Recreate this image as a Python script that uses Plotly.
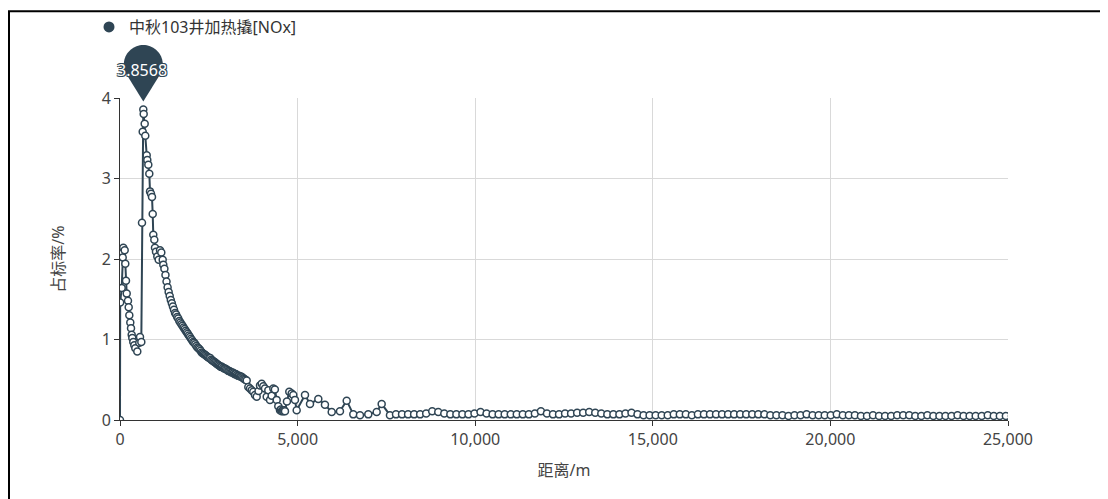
import math
import plotly.graph_objects as go

# ---------------- data ----------------
series_name = "中秋103井加热撬[NOx]"
x_title = "距离/m"
y_title = "占标率/%"

dist_head = [0, 5, 48, 76, 93, 132, 149, 169, 189, 225, 245, 262, 290, 310, 329, 346,
             374, 403, 431, 487, 543, 563, 600, 619, 639, 656, 667, 695, 712, 752,
             769, 797, 825, 845, 873, 901, 921, 937, 966, 985, 1013, 1050, 1089, 1126,
             1163, 1202, 1219]
val_head = [0.0, 1.46, 1.64, 2.02, 2.14, 2.11, 1.94, 1.73, 1.57, 1.48, 1.40, 1.30, 1.21,
            1.14, 1.06, 1.02, 0.97, 0.93, 0.89, 0.85, 0.96, 1.03, 0.97, 2.45, 3.58,
            3.8568, 3.80, 3.68, 3.53, 3.29, 3.23, 3.17, 3.06, 2.84, 2.81, 2.77, 2.56,
            2.30, 2.24, 2.14, 2.09, 2.03, 1.99, 2.11, 2.08, 1.99, 1.93]

dist_decay = [1250, 1280, 1310, 1340, 1370, 1400, 1430, 1460, 1490, 1520, 1550, 1580,
              1610, 1640, 1670, 1700, 1730, 1760, 1790, 1820, 1850, 1880, 1910, 1940,
              1970, 2000, 2030, 2060, 2090, 2120, 2150, 2180, 2210, 2240, 2270, 2300,
              2330, 2360, 2390, 2420, 2450, 2480, 2510, 2540, 2570, 2600, 2630, 2660,
              2690, 2720, 2750, 2780, 2810, 2840, 2870, 2900, 2930, 2960, 2990, 3020,
              3050, 3080, 3110, 3140, 3170, 3200, 3230, 3260, 3290, 3320, 3350, 3380,
              3410, 3440, 3470, 3500, 3530]
val_decay = [1.88, 1.80, 1.72, 1.65, 1.59, 1.54, 1.49, 1.45, 1.41, 1.37, 1.33, 1.31,
             1.28, 1.26, 1.23, 1.21, 1.19, 1.17, 1.15, 1.13, 1.11, 1.09, 1.07, 1.05,
             1.03, 1.01, 0.99, 0.97, 0.96, 0.94, 0.92, 0.90, 0.89, 0.88, 0.86, 0.84,
             0.83, 0.82, 0.81, 0.80, 0.79, 0.78, 0.77, 0.77, 0.75, 0.74, 0.73, 0.72,
             0.71, 0.70, 0.69, 0.68, 0.67, 0.66, 0.66, 0.65, 0.64, 0.64, 0.63, 0.62,
             0.61, 0.61, 0.60, 0.59, 0.59, 0.58, 0.57, 0.57, 0.56, 0.55, 0.55, 0.54,
             0.54, 0.53, 0.52, 0.51, 0.50]

dist_jag = [3567, 3612, 3660, 3707, 3752, 3800, 3848, 3900, 3941, 3989, 4035, 4082,
            4130, 4175, 4223, 4270, 4316, 4360, 4411, 4456, 4504, 4530, 4552, 4580,
            4600, 4625, 4645, 4700, 4766, 4833, 4879, 4926, 4974, 5208, 5349, 5583,
            5770, 5960, 6193, 6382, 6568, 6756, 6990, 7226, 7367, 7600]
val_jag = [0.49, 0.41, 0.39, 0.37, 0.35, 0.31, 0.29, 0.36, 0.43, 0.45, 0.42, 0.39,
           0.29, 0.37, 0.25, 0.30, 0.39, 0.38, 0.25, 0.17, 0.12, 0.13, 0.11, 0.12,
           0.11, 0.12, 0.11, 0.23, 0.35, 0.33, 0.31, 0.25, 0.12, 0.31, 0.20, 0.26,
           0.19, 0.10, 0.11, 0.24, 0.07, 0.06, 0.07, 0.10, 0.20, 0.06]

dist_tail = [7770, 7940, 8110, 8280, 8450, 8620, 8790, 8960, 9130, 9300, 9470, 9640,
             9810, 9980, 10150, 10320, 10490, 10660, 10830, 11000, 11170, 11340, 11510,
             11680, 11850, 12020, 12190, 12360, 12530, 12700, 12870, 13040, 13210,
             13380, 13550, 13720, 13890, 14060, 14230, 14400, 14570, 14740, 14910,
             15080, 15250, 15420, 15590, 15760, 15930, 16100, 16270, 16440, 16610,
             16780, 16950, 17120, 17290, 17460, 17630, 17800, 17970, 18140, 18310,
             18480, 18650, 18820, 18990, 19160, 19330, 19500, 19670, 19840, 20010,
             20180, 20350, 20520, 20690, 20860, 21030, 21200, 21370, 21540, 21710,
             21880, 22050, 22220, 22390, 22560, 22730, 22900, 23070, 23240, 23410,
             23580, 23750, 23920, 24090, 24260, 24430, 24600, 24770, 24940, 25110]
val_tail = [0.07, 0.07, 0.07, 0.07, 0.07, 0.08, 0.11, 0.10, 0.08, 0.07, 0.07, 0.07,
            0.07, 0.08, 0.10, 0.08, 0.07, 0.07, 0.07, 0.07, 0.07, 0.07, 0.07,
            0.08, 0.11, 0.08, 0.07, 0.07, 0.08, 0.08, 0.09, 0.09, 0.10,
            0.09, 0.08, 0.07, 0.07, 0.07, 0.08, 0.09, 0.07, 0.06, 0.06,
            0.06, 0.06, 0.06, 0.07, 0.07, 0.07, 0.06, 0.07, 0.07, 0.07,
            0.07, 0.07, 0.07, 0.07, 0.07, 0.07, 0.07, 0.07, 0.07, 0.06,
            0.06, 0.06, 0.05, 0.06, 0.06, 0.07, 0.06, 0.06, 0.06, 0.06,
            0.07, 0.06, 0.06, 0.06, 0.05, 0.05, 0.06, 0.05, 0.05, 0.05,
            0.06, 0.06, 0.06, 0.05, 0.05, 0.06, 0.05, 0.05, 0.05, 0.05,
            0.06, 0.05, 0.05, 0.05, 0.05, 0.06, 0.05, 0.05, 0.05, 0.05]

x_range = [0, 25000]
y_range = [0, 4]
x_ticks = [0, 5000, 10000, 15000, 20000, 25000]
x_tick_labels = ["0", "5,000", "10,000", "15,000", "20,000", "25,000"]
y_ticks = [0, 1, 2, 3, 4]

distance = dist_head + dist_decay + dist_jag + dist_tail
value = val_head + val_decay + val_jag + val_tail

# ---------------- style ----------------
C = "#2f4554"
# page body has an 8px margin, so the figure is 8px smaller than the window
W, H = 1100, 491
ML, MR, MT, MB = 112, 100, 90, 79
FONT = "Noto Sans, Noto Sans CJK SC, sans-serif"
TXT = "#444"

fig = go.Figure()
fig.add_trace(go.Scatter(
    x=distance, y=value, mode="lines+markers", name=series_name,
    showlegend=False,
    line=dict(color=C, width=2),
    marker=dict(symbol="circle", size=7, color="white", line=dict(color=C, width=1.5)),
))
# legend entry (filled circle icon)
fig.add_trace(go.Scatter(
    x=[None], y=[None], mode="markers", name=series_name,
    marker=dict(symbol="circle", size=11, color=C),
))

# peak pin (paper-anchored so it is not clipped to the plot area)
i_peak = max(range(len(value)), key=lambda i: value[i])
px_, py_ = distance[i_peak], value[i_peak]
ax_ = (px_ - x_range[0]) / (x_range[1] - x_range[0])
ay_ = (py_ - y_range[0]) / (y_range[1] - y_range[0])
r, d, tipoff = 19.5, 37.0, 8.0
ang = math.degrees(math.acos(r / d))
a0 = -90 + ang
a1 = 270 - ang
pts = [(0, tipoff)]
n = 48
for k in range(n + 1):
    a = math.radians(a0 + (a1 - a0) * k / n)
    pts.append((r * math.cos(a), tipoff + d + r * math.sin(a)))
path = "M " + " L ".join(f"{x:.2f},{y:.2f}" for x, y in pts) + " Z"
fig.add_shape(type="path", xref="paper", yref="paper", xsizemode="pixel", ysizemode="pixel",
              xanchor=ax_, yanchor=ay_, path=path, fillcolor=C, line=dict(width=0),
              layer="above")
fig.add_annotation(x=ax_, y=ay_, xref="paper", yref="paper", text=f"{py_:.4f}",
                   showarrow=False, xanchor="center", yanchor="middle",
                   yshift=39.5, xshift=-1,
                   font=dict(family=FONT, size=16, color="white",
                             shadow="1px 1px 0 #2f4554, -1px -1px 0 #2f4554, 1px -1px 0 #2f4554, -1px 1px 0 #2f4554"))

# outer frame
pw, ph = W - ML - MR, H - MT - MB
def fx(p): return (p - ML) / pw
def fy(p): return (H - MB - p) / ph
fig.add_shape(type="rect", xref="paper", yref="paper",
              x0=fx(1), x1=fx(1110), y0=fy(3.2), y1=fy(510),
              line=dict(color="black", width=2), fillcolor="rgba(0,0,0,0)")

axis_common = dict(showline=True, linecolor="#333", linewidth=1, ticks="outside",
                   ticklen=5, tickcolor="#333", showgrid=True, gridcolor="#d9d9d9",
                   gridwidth=1, zeroline=False,
                   tickfont=dict(family=FONT, size=16, color=TXT))

fig.update_layout(
    width=W, height=H,
    margin=dict(l=ML, r=MR, t=MT, b=MB, autoexpand=False),
    paper_bgcolor="white", plot_bgcolor="white",
    font=dict(family=FONT, color=TXT),
    xaxis=dict(range=x_range, tickvals=x_ticks, ticktext=x_tick_labels,
               title=dict(text=x_title, font=dict(family=FONT, size=16, color=TXT), standoff=15),
               automargin=False, **axis_common),
    yaxis=dict(range=y_range, tickvals=y_ticks,
               title=dict(text=y_title, font=dict(family=FONT, size=16, color=TXT), standoff=33),
               automargin=False, **axis_common),
    legend=dict(x=fx(81), y=fy(19), xanchor="left", yanchor="middle",
                font=dict(family=FONT, size=16, color="#333"),
                bgcolor="rgba(0,0,0,0)", itemwidth=30),
    showlegend=True,
)

fig.write_html("out.html")
